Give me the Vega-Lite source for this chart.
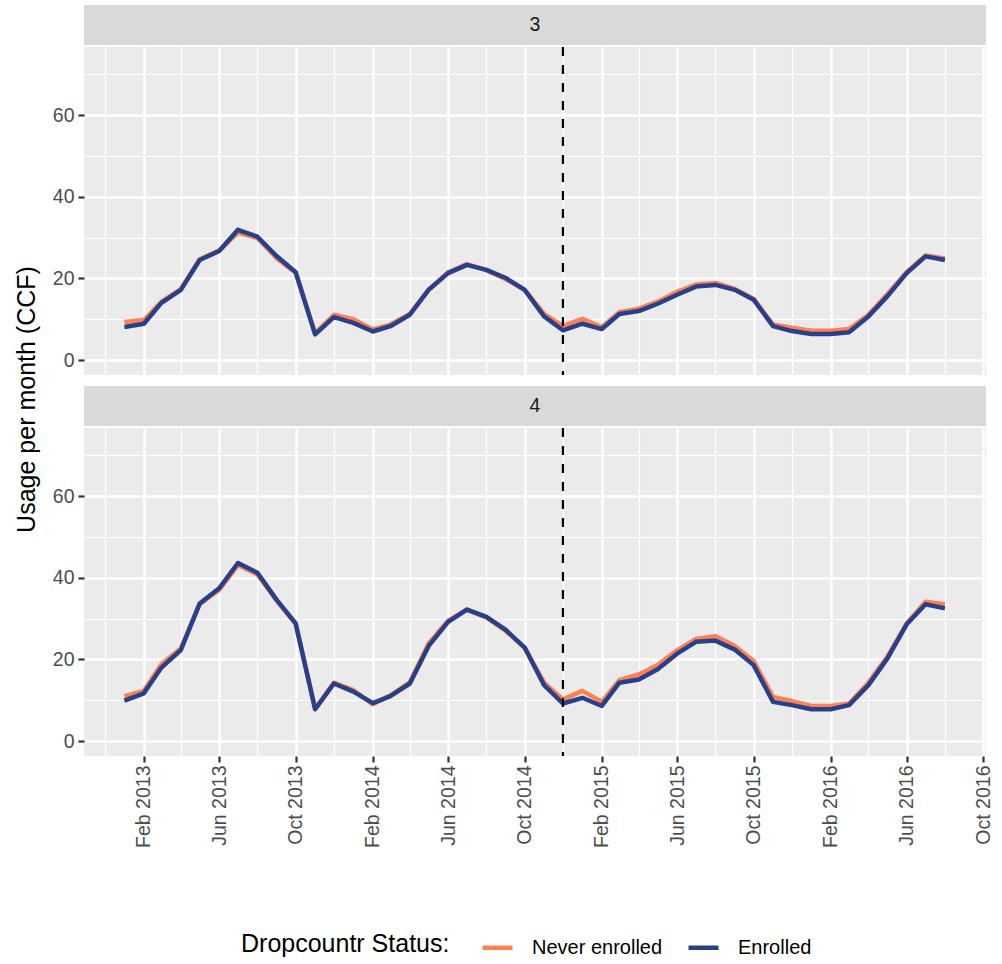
{
  "$schema": "https://vega.github.io/schema/vega-lite/v6.json",
  "background": "white",
  "padding": {"left": 15, "top": 5, "right": 10, "bottom": 5},
  "title": {"text": "Usage per month (CCF)", "orient": "left", "anchor": "middle", "fontSize": 25, "fontWeight": "normal", "color": "black", "font": "Liberation Sans", "offset": 12, "dx": 82},
  "datasets": {
    "events": [{"event": "Dropcountr launch", "date": "2014/12/01"}],
    "usage": [
      {"panel":3,"status":"Never enrolled","date":"2013/01/01","usage":9.3},
      {"panel":3,"status":"Never enrolled","date":"2013/02/01","usage":9.8},
      {"panel":3,"status":"Never enrolled","date":"2013/03/01","usage":14.3},
      {"panel":3,"status":"Never enrolled","date":"2013/04/01","usage":17.4},
      {"panel":3,"status":"Never enrolled","date":"2013/05/01","usage":24.7},
      {"panel":3,"status":"Never enrolled","date":"2013/06/01","usage":26.8},
      {"panel":3,"status":"Never enrolled","date":"2013/07/01","usage":31.2},
      {"panel":3,"status":"Never enrolled","date":"2013/08/01","usage":29.9},
      {"panel":3,"status":"Never enrolled","date":"2013/09/01","usage":24.9},
      {"panel":3,"status":"Never enrolled","date":"2013/10/01","usage":21.4},
      {"panel":3,"status":"Never enrolled","date":"2013/11/01","usage":6.6},
      {"panel":3,"status":"Never enrolled","date":"2013/12/01","usage":11.1},
      {"panel":3,"status":"Never enrolled","date":"2014/01/01","usage":10.0},
      {"panel":3,"status":"Never enrolled","date":"2014/02/01","usage":7.5},
      {"panel":3,"status":"Never enrolled","date":"2014/03/01","usage":8.7},
      {"panel":3,"status":"Never enrolled","date":"2014/04/01","usage":11.3},
      {"panel":3,"status":"Never enrolled","date":"2014/05/01","usage":17.3},
      {"panel":3,"status":"Never enrolled","date":"2014/06/01","usage":21.5},
      {"panel":3,"status":"Never enrolled","date":"2014/07/01","usage":23.5},
      {"panel":3,"status":"Never enrolled","date":"2014/08/01","usage":22.0},
      {"panel":3,"status":"Never enrolled","date":"2014/09/01","usage":19.8},
      {"panel":3,"status":"Never enrolled","date":"2014/10/01","usage":17.2},
      {"panel":3,"status":"Never enrolled","date":"2014/11/01","usage":11.3},
      {"panel":3,"status":"Never enrolled","date":"2014/12/01","usage":8.3},
      {"panel":3,"status":"Never enrolled","date":"2015/01/01","usage":10.1},
      {"panel":3,"status":"Never enrolled","date":"2015/02/01","usage":8.1},
      {"panel":3,"status":"Never enrolled","date":"2015/03/01","usage":11.7},
      {"panel":3,"status":"Never enrolled","date":"2015/04/01","usage":12.6},
      {"panel":3,"status":"Never enrolled","date":"2015/05/01","usage":14.3},
      {"panel":3,"status":"Never enrolled","date":"2015/06/01","usage":16.7},
      {"panel":3,"status":"Never enrolled","date":"2015/07/01","usage":18.5},
      {"panel":3,"status":"Never enrolled","date":"2015/08/01","usage":18.9},
      {"panel":3,"status":"Never enrolled","date":"2015/09/01","usage":17.4},
      {"panel":3,"status":"Never enrolled","date":"2015/10/01","usage":15.0},
      {"panel":3,"status":"Never enrolled","date":"2015/11/01","usage":8.7},
      {"panel":3,"status":"Never enrolled","date":"2015/12/01","usage":7.9},
      {"panel":3,"status":"Never enrolled","date":"2016/01/01","usage":7.2},
      {"panel":3,"status":"Never enrolled","date":"2016/02/01","usage":7.2},
      {"panel":3,"status":"Never enrolled","date":"2016/03/01","usage":7.6},
      {"panel":3,"status":"Never enrolled","date":"2016/04/01","usage":11.1},
      {"panel":3,"status":"Never enrolled","date":"2016/05/01","usage":16.1},
      {"panel":3,"status":"Never enrolled","date":"2016/06/01","usage":21.6},
      {"panel":3,"status":"Never enrolled","date":"2016/07/01","usage":25.6},
      {"panel":3,"status":"Never enrolled","date":"2016/08/01","usage":24.9},
      {"panel":4,"status":"Never enrolled","date":"2013/01/01","usage":11.0},
      {"panel":4,"status":"Never enrolled","date":"2013/02/01","usage":12.3},
      {"panel":4,"status":"Never enrolled","date":"2013/03/01","usage":18.8},
      {"panel":4,"status":"Never enrolled","date":"2013/04/01","usage":22.7},
      {"panel":4,"status":"Never enrolled","date":"2013/05/01","usage":33.5},
      {"panel":4,"status":"Never enrolled","date":"2013/06/01","usage":37.0},
      {"panel":4,"status":"Never enrolled","date":"2013/07/01","usage":43.1},
      {"panel":4,"status":"Never enrolled","date":"2013/08/01","usage":40.8},
      {"panel":4,"status":"Never enrolled","date":"2013/09/01","usage":34.3},
      {"panel":4,"status":"Never enrolled","date":"2013/10/01","usage":28.7},
      {"panel":4,"status":"Never enrolled","date":"2013/11/01","usage":7.9},
      {"panel":4,"status":"Never enrolled","date":"2013/12/01","usage":14.3},
      {"panel":4,"status":"Never enrolled","date":"2014/01/01","usage":12.5},
      {"panel":4,"status":"Never enrolled","date":"2014/02/01","usage":9.0},
      {"panel":4,"status":"Never enrolled","date":"2014/03/01","usage":11.2},
      {"panel":4,"status":"Never enrolled","date":"2014/04/01","usage":14.4},
      {"panel":4,"status":"Never enrolled","date":"2014/05/01","usage":23.9},
      {"panel":4,"status":"Never enrolled","date":"2014/06/01","usage":29.5},
      {"panel":4,"status":"Never enrolled","date":"2014/07/01","usage":32.2},
      {"panel":4,"status":"Never enrolled","date":"2014/08/01","usage":30.3},
      {"panel":4,"status":"Never enrolled","date":"2014/09/01","usage":27.0},
      {"panel":4,"status":"Never enrolled","date":"2014/10/01","usage":22.8},
      {"panel":4,"status":"Never enrolled","date":"2014/11/01","usage":14.3},
      {"panel":4,"status":"Never enrolled","date":"2014/12/01","usage":10.2},
      {"panel":4,"status":"Never enrolled","date":"2015/01/01","usage":12.3},
      {"panel":4,"status":"Never enrolled","date":"2015/02/01","usage":9.6},
      {"panel":4,"status":"Never enrolled","date":"2015/03/01","usage":14.9},
      {"panel":4,"status":"Never enrolled","date":"2015/04/01","usage":16.3},
      {"panel":4,"status":"Never enrolled","date":"2015/05/01","usage":18.6},
      {"panel":4,"status":"Never enrolled","date":"2015/06/01","usage":22.2},
      {"panel":4,"status":"Never enrolled","date":"2015/07/01","usage":25.0},
      {"panel":4,"status":"Never enrolled","date":"2015/08/01","usage":25.7},
      {"panel":4,"status":"Never enrolled","date":"2015/09/01","usage":23.3},
      {"panel":4,"status":"Never enrolled","date":"2015/10/01","usage":19.6},
      {"panel":4,"status":"Never enrolled","date":"2015/11/01","usage":10.8},
      {"panel":4,"status":"Never enrolled","date":"2015/12/01","usage":9.8},
      {"panel":4,"status":"Never enrolled","date":"2016/01/01","usage":8.6},
      {"panel":4,"status":"Never enrolled","date":"2016/02/01","usage":8.6},
      {"panel":4,"status":"Never enrolled","date":"2016/03/01","usage":9.2},
      {"panel":4,"status":"Never enrolled","date":"2016/04/01","usage":14.3},
      {"panel":4,"status":"Never enrolled","date":"2016/05/01","usage":20.6},
      {"panel":4,"status":"Never enrolled","date":"2016/06/01","usage":28.8},
      {"panel":4,"status":"Never enrolled","date":"2016/07/01","usage":34.1},
      {"panel":4,"status":"Never enrolled","date":"2016/08/01","usage":33.5},
      {"panel":3,"status":"Enrolled","date":"2013/01/01","usage":8.1},
      {"panel":3,"status":"Enrolled","date":"2013/02/01","usage":8.9},
      {"panel":3,"status":"Enrolled","date":"2013/03/01","usage":14.0},
      {"panel":3,"status":"Enrolled","date":"2013/04/01","usage":17.2},
      {"panel":3,"status":"Enrolled","date":"2013/05/01","usage":24.5},
      {"panel":3,"status":"Enrolled","date":"2013/06/01","usage":26.7},
      {"panel":3,"status":"Enrolled","date":"2013/07/01","usage":31.9},
      {"panel":3,"status":"Enrolled","date":"2013/08/01","usage":30.2},
      {"panel":3,"status":"Enrolled","date":"2013/09/01","usage":25.4},
      {"panel":3,"status":"Enrolled","date":"2013/10/01","usage":21.5},
      {"panel":3,"status":"Enrolled","date":"2013/11/01","usage":6.3},
      {"panel":3,"status":"Enrolled","date":"2013/12/01","usage":10.5},
      {"panel":3,"status":"Enrolled","date":"2014/01/01","usage":9.1},
      {"panel":3,"status":"Enrolled","date":"2014/02/01","usage":7.0},
      {"panel":3,"status":"Enrolled","date":"2014/03/01","usage":8.3},
      {"panel":3,"status":"Enrolled","date":"2014/04/01","usage":11.1},
      {"panel":3,"status":"Enrolled","date":"2014/05/01","usage":17.2},
      {"panel":3,"status":"Enrolled","date":"2014/06/01","usage":21.3},
      {"panel":3,"status":"Enrolled","date":"2014/07/01","usage":23.3},
      {"panel":3,"status":"Enrolled","date":"2014/08/01","usage":22.1},
      {"panel":3,"status":"Enrolled","date":"2014/09/01","usage":20.1},
      {"panel":3,"status":"Enrolled","date":"2014/10/01","usage":17.2},
      {"panel":3,"status":"Enrolled","date":"2014/11/01","usage":10.7},
      {"panel":3,"status":"Enrolled","date":"2014/12/01","usage":7.3},
      {"panel":3,"status":"Enrolled","date":"2015/01/01","usage":8.9},
      {"panel":3,"status":"Enrolled","date":"2015/02/01","usage":7.6},
      {"panel":3,"status":"Enrolled","date":"2015/03/01","usage":11.3},
      {"panel":3,"status":"Enrolled","date":"2015/04/01","usage":12.0},
      {"panel":3,"status":"Enrolled","date":"2015/05/01","usage":13.8},
      {"panel":3,"status":"Enrolled","date":"2015/06/01","usage":16.0},
      {"panel":3,"status":"Enrolled","date":"2015/07/01","usage":18.0},
      {"panel":3,"status":"Enrolled","date":"2015/08/01","usage":18.4},
      {"panel":3,"status":"Enrolled","date":"2015/09/01","usage":17.2},
      {"panel":3,"status":"Enrolled","date":"2015/10/01","usage":14.8},
      {"panel":3,"status":"Enrolled","date":"2015/11/01","usage":8.3},
      {"panel":3,"status":"Enrolled","date":"2015/12/01","usage":7.1},
      {"panel":3,"status":"Enrolled","date":"2016/01/01","usage":6.4},
      {"panel":3,"status":"Enrolled","date":"2016/02/01","usage":6.4},
      {"panel":3,"status":"Enrolled","date":"2016/03/01","usage":6.8},
      {"panel":3,"status":"Enrolled","date":"2016/04/01","usage":10.7},
      {"panel":3,"status":"Enrolled","date":"2016/05/01","usage":15.6},
      {"panel":3,"status":"Enrolled","date":"2016/06/01","usage":21.3},
      {"panel":3,"status":"Enrolled","date":"2016/07/01","usage":25.4},
      {"panel":3,"status":"Enrolled","date":"2016/08/01","usage":24.5},
      {"panel":4,"status":"Enrolled","date":"2013/01/01","usage":9.9},
      {"panel":4,"status":"Enrolled","date":"2013/02/01","usage":11.7},
      {"panel":4,"status":"Enrolled","date":"2013/03/01","usage":18.0},
      {"panel":4,"status":"Enrolled","date":"2013/04/01","usage":22.3},
      {"panel":4,"status":"Enrolled","date":"2013/05/01","usage":33.7},
      {"panel":4,"status":"Enrolled","date":"2013/06/01","usage":37.4},
      {"panel":4,"status":"Enrolled","date":"2013/07/01","usage":43.6},
      {"panel":4,"status":"Enrolled","date":"2013/08/01","usage":41.2},
      {"panel":4,"status":"Enrolled","date":"2013/09/01","usage":34.5},
      {"panel":4,"status":"Enrolled","date":"2013/10/01","usage":28.8},
      {"panel":4,"status":"Enrolled","date":"2013/11/01","usage":7.8},
      {"panel":4,"status":"Enrolled","date":"2013/12/01","usage":14.1},
      {"panel":4,"status":"Enrolled","date":"2014/01/01","usage":12.1},
      {"panel":4,"status":"Enrolled","date":"2014/02/01","usage":9.3},
      {"panel":4,"status":"Enrolled","date":"2014/03/01","usage":11.0},
      {"panel":4,"status":"Enrolled","date":"2014/04/01","usage":14.1},
      {"panel":4,"status":"Enrolled","date":"2014/05/01","usage":23.3},
      {"panel":4,"status":"Enrolled","date":"2014/06/01","usage":29.2},
      {"panel":4,"status":"Enrolled","date":"2014/07/01","usage":32.2},
      {"panel":4,"status":"Enrolled","date":"2014/08/01","usage":30.4},
      {"panel":4,"status":"Enrolled","date":"2014/09/01","usage":27.2},
      {"panel":4,"status":"Enrolled","date":"2014/10/01","usage":22.9},
      {"panel":4,"status":"Enrolled","date":"2014/11/01","usage":13.7},
      {"panel":4,"status":"Enrolled","date":"2014/12/01","usage":9.2},
      {"panel":4,"status":"Enrolled","date":"2015/01/01","usage":10.6},
      {"panel":4,"status":"Enrolled","date":"2015/02/01","usage":8.6},
      {"panel":4,"status":"Enrolled","date":"2015/03/01","usage":14.3},
      {"panel":4,"status":"Enrolled","date":"2015/04/01","usage":15.1},
      {"panel":4,"status":"Enrolled","date":"2015/05/01","usage":17.6},
      {"panel":4,"status":"Enrolled","date":"2015/06/01","usage":21.4},
      {"panel":4,"status":"Enrolled","date":"2015/07/01","usage":24.3},
      {"panel":4,"status":"Enrolled","date":"2015/08/01","usage":24.6},
      {"panel":4,"status":"Enrolled","date":"2015/09/01","usage":22.4},
      {"panel":4,"status":"Enrolled","date":"2015/10/01","usage":18.6},
      {"panel":4,"status":"Enrolled","date":"2015/11/01","usage":9.6},
      {"panel":4,"status":"Enrolled","date":"2015/12/01","usage":8.8},
      {"panel":4,"status":"Enrolled","date":"2016/01/01","usage":7.8},
      {"panel":4,"status":"Enrolled","date":"2016/02/01","usage":7.8},
      {"panel":4,"status":"Enrolled","date":"2016/03/01","usage":8.8},
      {"panel":4,"status":"Enrolled","date":"2016/04/01","usage":13.7},
      {"panel":4,"status":"Enrolled","date":"2016/05/01","usage":20.2},
      {"panel":4,"status":"Enrolled","date":"2016/06/01","usage":28.6},
      {"panel":4,"status":"Enrolled","date":"2016/07/01","usage":33.5},
      {"panel":4,"status":"Enrolled","date":"2016/08/01","usage":32.5}
    ]
  },
  "spacing": 9,
  "vconcat": [
    {
      "spacing": 0,
      "vconcat": [
        {
          "width": 902, "height": 40,
          "view": {"fill": "#d9d9d9", "stroke": null},
          "data": {"values": [{"panel": "3"}]},
          "mark": {"type": "text", "fontSize": 19.5, "color": "#1a1a1a", "font": "Liberation Sans", "align": "center", "baseline": "middle"},
          "encoding": {"text": {"field": "panel", "type": "nominal"}}
        },
        {
          "width": 902, "height": 328,
          "view": {"fill": "#ebebeb", "stroke": null},
          "encoding": {
            "x": {"field": "date", "type": "temporal",
              "scale": {"domain": [{"year": 2012, "month": 10, "date": 28, "hours": 14}, {"year": 2016, "month": 10, "date": 5, "hours": 10}]},
              "axis": {"title": null, "labels": false, "ticks": false, "domain": false,
                "values": [{"year":2012,"month":12,"date":1},{"year":2013,"month":2,"date":1},{"year":2013,"month":4,"date":1},{"year":2013,"month":6,"date":1},{"year":2013,"month":8,"date":1},{"year":2013,"month":10,"date":1},{"year":2013,"month":12,"date":1},{"year":2014,"month":2,"date":1},{"year":2014,"month":4,"date":1},{"year":2014,"month":6,"date":1},{"year":2014,"month":8,"date":1},{"year":2014,"month":10,"date":1},{"year":2014,"month":12,"date":1},{"year":2015,"month":2,"date":1},{"year":2015,"month":4,"date":1},{"year":2015,"month":6,"date":1},{"year":2015,"month":8,"date":1},{"year":2015,"month":10,"date":1},{"year":2015,"month":12,"date":1},{"year":2016,"month":2,"date":1},{"year":2016,"month":4,"date":1},{"year":2016,"month":6,"date":1},{"year":2016,"month":8,"date":1},{"year":2016,"month":10,"date":1}],
                "gridWidth": {"condition": {"test": "month(datum.value) % 4 == 1", "value": 2.4}, "value": 1.2}}}
          },
          "layer": [
            {
              "data": {"name": "usage"},
              "transform": [{"filter": "datum.panel == 3"}],
              "mark": {"type": "line", "strokeWidth": 4.5, "strokeJoin": "round"},
              "encoding": {
                "y": {"field": "usage", "type": "quantitative", "scale": {"domain": [-3.65, 76.65], "nice": false, "zero": false},
                  "axis": {"title": null, "values": [0, 10, 20, 30, 40, 50, 60, 70],
                    "labelExpr": "datum.value % 20 == 0 ? datum.label : ''",
                    "tickOpacity": {"condition": {"test": "datum.value % 20 == 0", "value": 1}, "value": 0},
                    "gridWidth": {"condition": {"test": "datum.value % 20 == 0", "value": 2.4}, "value": 1.2}}},
                "color": {"field": "status", "type": "nominal", "scale": {"domain": ["Never enrolled", "Enrolled"], "range": ["#FF7F50", "#27408B"]},
                  "legend": {"title": "Dropcountr Status:", "orient": "none", "legendX": 157, "legendY": 925, "direction": "horizontal"}}
              }
            },
            {
              "data": {"name": "events"},
              "mark": {"type": "rule", "strokeDash": [9, 9], "strokeWidth": 2.2, "color": "black"}
            }
          ]
        }
      ]
    },
    {
      "spacing": 0,
      "vconcat": [
        {
          "width": 902, "height": 40,
          "view": {"fill": "#d9d9d9", "stroke": null},
          "data": {"values": [{"panel": "4"}]},
          "mark": {"type": "text", "fontSize": 19.5, "color": "#1a1a1a", "font": "Liberation Sans", "align": "center", "baseline": "middle"},
          "encoding": {"text": {"field": "panel", "type": "nominal"}}
        },
        {
          "width": 902, "height": 328,
          "view": {"fill": "#ebebeb", "stroke": null},
          "encoding": {
            "x": {"field": "date", "type": "temporal",
              "scale": {"domain": [{"year": 2012, "month": 10, "date": 28, "hours": 14}, {"year": 2016, "month": 10, "date": 5, "hours": 10}]},
              "axis": {"title": null, "domain": false, "labelAngle": 270, "labelAlign": "right", "labelBaseline": "middle", "labelPadding": 3,
                "values": [{"year":2012,"month":12,"date":1},{"year":2013,"month":2,"date":1},{"year":2013,"month":4,"date":1},{"year":2013,"month":6,"date":1},{"year":2013,"month":8,"date":1},{"year":2013,"month":10,"date":1},{"year":2013,"month":12,"date":1},{"year":2014,"month":2,"date":1},{"year":2014,"month":4,"date":1},{"year":2014,"month":6,"date":1},{"year":2014,"month":8,"date":1},{"year":2014,"month":10,"date":1},{"year":2014,"month":12,"date":1},{"year":2015,"month":2,"date":1},{"year":2015,"month":4,"date":1},{"year":2015,"month":6,"date":1},{"year":2015,"month":8,"date":1},{"year":2015,"month":10,"date":1},{"year":2015,"month":12,"date":1},{"year":2016,"month":2,"date":1},{"year":2016,"month":4,"date":1},{"year":2016,"month":6,"date":1},{"year":2016,"month":8,"date":1},{"year":2016,"month":10,"date":1}],
                "labelExpr": "month(datum.value) % 4 == 1 ? timeFormat(datum.value, '%b %Y') : ''",
                "tickOpacity": {"condition": {"test": "month(datum.value) % 4 == 1", "value": 1}, "value": 0},
                "gridWidth": {"condition": {"test": "month(datum.value) % 4 == 1", "value": 2.4}, "value": 1.2}}}
          },
          "layer": [
            {
              "data": {"name": "usage"},
              "transform": [{"filter": "datum.panel == 4"}],
              "mark": {"type": "line", "strokeWidth": 4.5, "strokeJoin": "round"},
              "encoding": {
                "y": {"field": "usage", "type": "quantitative", "scale": {"domain": [-3.65, 76.65], "nice": false, "zero": false},
                  "axis": {"title": null, "values": [0, 10, 20, 30, 40, 50, 60, 70],
                    "labelExpr": "datum.value % 20 == 0 ? datum.label : ''",
                    "tickOpacity": {"condition": {"test": "datum.value % 20 == 0", "value": 1}, "value": 0},
                    "gridWidth": {"condition": {"test": "datum.value % 20 == 0", "value": 2.4}, "value": 1.2}}},
                "color": {"field": "status", "type": "nominal", "scale": {"domain": ["Never enrolled", "Enrolled"], "range": ["#FF7F50", "#27408B"]},
                  "legend": {"title": "Dropcountr Status:", "orient": "none", "legendX": 157, "legendY": 925, "direction": "horizontal"}}
              }
            },
            {
              "data": {"name": "events"},
              "mark": {"type": "rule", "strokeDash": [9, 9], "strokeWidth": 2.2, "color": "black"}
            }
          ]
        }
      ]
    }
  ],
  "config": {
    "font": "Liberation Sans",
    "view": {"stroke": null},
    "axis": {"labelFont": "Liberation Sans", "labelFontSize": 19.5, "labelColor": "#4d4d4d", "tickColor": "#333333", "tickSize": 6, "tickWidth": 2.2, "gridColor": "#ffffff", "domain": false, "labelPadding": 4},
    "legend": {
      "titleOrient": "left", "titleFontSize": 25, "titleFontWeight": "normal", "titleColor": "black", "titleFont": "Liberation Sans", "titlePadding": 30, "titleBaseline": "middle", "titleLimit": 400,
      "labelFontSize": 20, "labelColor": "black", "labelFont": "Liberation Sans", "labelOffset": 17, "labelLimit": 300,
      "symbolType": "stroke", "symbolSize": 900, "symbolStrokeWidth": 4.5, "columnPadding": 16
    }
  }
}
